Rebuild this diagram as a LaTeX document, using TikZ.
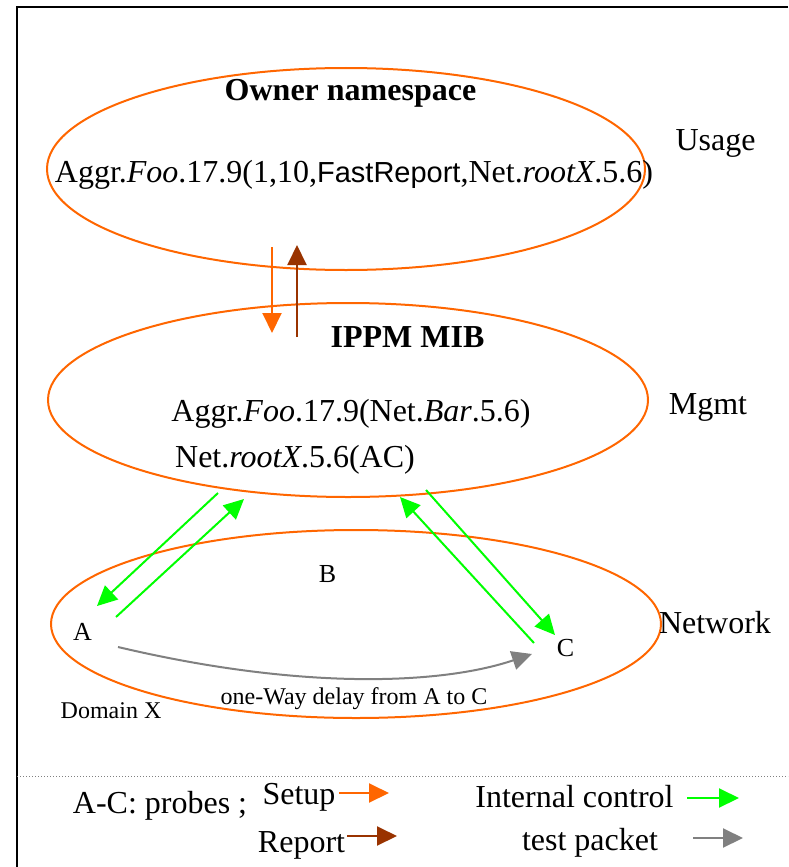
\documentclass[tikz,border=0pt]{standalone}
\usepackage{fontspec}
\setmainfont{Liberation Serif}
\newfontfamily\sansfam{Liberation Sans}
\usetikzlibrary{arrows.meta,shapes.geometric}
\definecolor{setupc}{HTML}{FF6600}
\definecolor{reportc}{HTML}{993300}
\definecolor{ctrlc}{HTML}{00FF00}
\definecolor{pktc}{HTML}{808080}

\begin{document}
\begin{tikzpicture}[x=1pt,y=-1pt,
  txt/.style={inner sep=0pt, anchor=base, font=\fontsize{32}{38}\selectfont},
  txtb/.style={txt, font=\fontsize{32}{38}\selectfont\bfseries},
  small/.style={txt, font=\fontsize{24}{28}\selectfont},
  probe/.style={txt, font=\fontsize{26}{30}\selectfont},
  layer/.style={ellipse, draw=setupc, line width=2pt, inner sep=0pt},
  headtip/.style={-{Triangle[length=20pt,width=19pt]}},
  setupline/.style={headtip, draw=setupc, line width=2pt},
  reportline/.style={headtip, draw=reportc, line width=2pt},
  ctrlline/.style={headtip, draw=ctrlc, line width=2pt},
  pktline/.style={headtip, draw=pktc, line width=2pt}
]
\useasboundingbox (0,0) rectangle (788,867);

% frame
\draw[line width=2pt] (788,7) -- (17,7) -- (17,867);
\draw[pktc, line width=1pt, dotted] (17,776) -- (788,776);

% the three layers
\node[layer, minimum width=598pt, minimum height=202pt] (usage) at (346,169) {};
\node[layer, minimum width=600pt, minimum height=194pt] (mgmt) at (348,400) {};
\node[layer, minimum width=610pt, minimum height=188pt] (net) at (356,624) {};

% usage layer
\node[txtb] (ownt) at (350.5,100) {Owner namespace};
\node[txt] (aggr1) at (354,182) {Aggr.\textit{Foo}.17.9(1,10,{\sansfam\fontsize{29}{34}\selectfont FastReport},Net.\textit{rootX}.5.6)};
\node[txt] (usaget) at (715.5,150) {Usage};

% management layer
\node[txtb] (mibt) at (407.5,347) {IPPM MIB};
\node[txt] (aggr2) at (351,421) {Aggr.\textit{Foo}.17.9(Net.\textit{Bar}.5.6)};
\node[txt] (rootx) at (295,467) {Net.\textit{rootX}.5.6(AC)};
\node[txt] (mgmtt) at (708,414) {Mgmt};

% network layer
\node[probe] (pb) at (327.5,582) {B};
\node[probe] (pa) at (82.5,640) {A};
\node[probe] (pc) at (565.5,656) {C};
\node[txt] (nett) at (715,633) {Network};
\node[small] (dom) at (111,718) {Domain X};
\node[small] (owd) at (354,704) {one-Way delay from A to C};

% setup / report between usage and management
\coordinate (s1) at (272,247);
\coordinate (s2) at (272,333);
\coordinate (r1) at (297,337);
\coordinate (r2) at (297,245);
\draw[setupline] (s1) -- (s2);
\draw[reportline] (r1) -- (r2);

% internal control between management and probes
\coordinate (ma1) at (218,493);
\coordinate (pa1) at (97,606);
\coordinate (pa2) at (116,617);
\coordinate (ma2) at (244,499);
\coordinate (pc1) at (534,643);
\coordinate (mc1) at (400,497);
\coordinate (mc2) at (426,490);
\coordinate (pc2) at (555,635);
\draw[ctrlline] (ma1) -- (pa1);
\draw[ctrlline] (pa2) -- (ma2);
\draw[ctrlline] (pc1) -- (mc1);
\draw[ctrlline] (mc2) -- (pc2);

% test packet A -> C
\coordinate (ta) at (118,647);
\coordinate (tc) at (532,654);
\draw[pktline] (ta) .. controls (300,690) and (440,685) .. (tc);

% legend
\node[txt] (lgprobes) at (160,813) {A-C: probes ;};
\node[txt] (lgsetup) at (299,804) {Setup};
\node[txt] (lgreport) at (301.5,852) {Report};
\node[txt] (lgctrl) at (574.5,807) {Internal control};
\node[txt] (lgpkt) at (590,850) {test packet};
\coordinate (lsa) at (339,793);
\coordinate (lsb) at (389,793);
\coordinate (lra) at (347,836);
\coordinate (lrb) at (397,836);
\coordinate (lca) at (687,798);
\coordinate (lcb) at (739,798);
\coordinate (lpa) at (693,838);
\coordinate (lpb) at (743,838);
\draw[setupline] (lsa) -- (lsb);
\draw[reportline] (lra) -- (lrb);
\draw[ctrlline] (lca) -- (lcb);
\draw[pktline] (lpa) -- (lpb);
\end{tikzpicture}
\end{document}
